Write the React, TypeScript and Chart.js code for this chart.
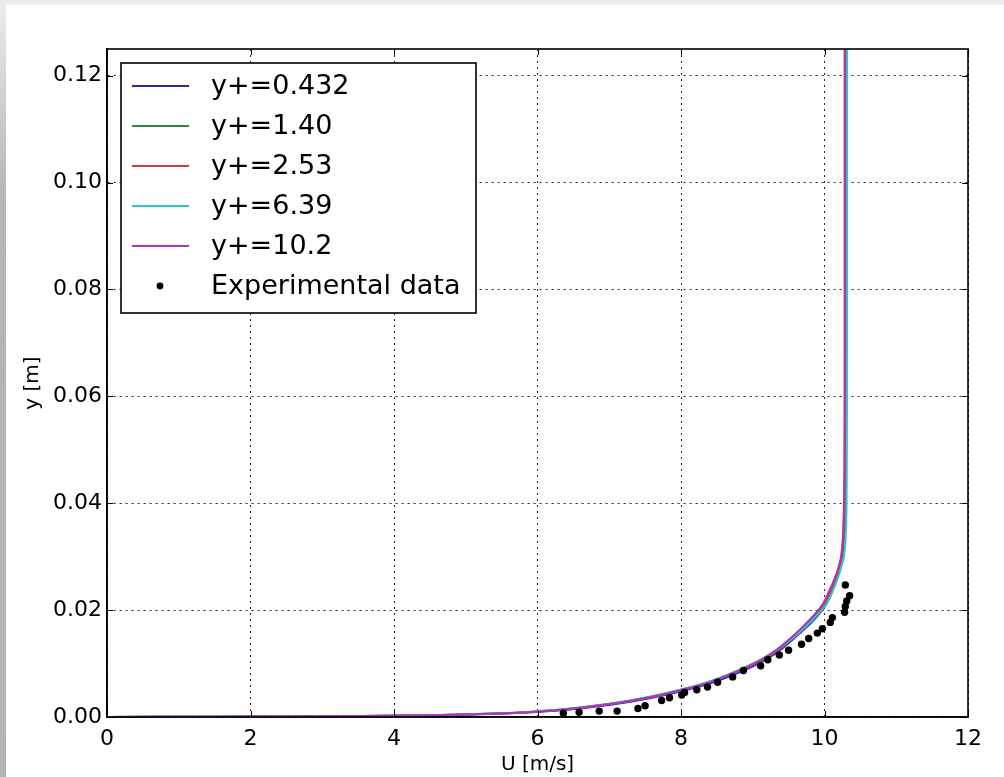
import React, { useEffect, useRef } from "react";
import { Chart, registerables } from "chart.js";

Chart.register(...registerables);

// Wall-normal heights (m) at which each simulated velocity profile is sampled
const heights = [
  0, 0.00005, 0.0001, 0.0002, 0.0003, 0.0005, 0.0007, 0.001, 0.0014, 0.002,
  0.003, 0.0045, 0.0065, 0.0095, 0.012, 0.015, 0.018, 0.021, 0.024, 0.027,
  0.03, 0.035, 0.045, 0.07, 0.125,
];

// Streamwise velocity U (m/s) for each first-cell y+ value
const uYplus0432 = [
  0, 1.6, 2.6, 3.7, 4.4, 5.2, 5.65, 6.05, 6.45, 6.85, 7.35, 7.9, 8.45, 9.0,
  9.33, 9.6, 9.84, 10.02, 10.11, 10.19, 10.24, 10.27, 10.285, 10.29, 10.29,
];
const uYplus140 = [
  0, 1.5, 2.5, 3.55, 4.25, 5.05, 5.55, 5.95, 6.35, 6.75, 7.27, 7.82, 8.38,
  8.93, 9.27, 9.56, 9.8, 9.99, 10.1, 10.19, 10.25, 10.28, 10.295, 10.3, 10.3,
];
const uYplus253 = [
  0, 1.55, 2.55, 3.6, 4.3, 5.1, 5.58, 5.98, 6.38, 6.78, 7.3, 7.85, 8.4, 8.96,
  9.3, 9.58, 9.82, 10.0, 10.1, 10.18, 10.24, 10.27, 10.285, 10.29, 10.29,
];
const uYplus639 = [
  0, 1.45, 2.45, 3.5, 4.2, 5.0, 5.5, 5.9, 6.3, 6.72, 7.25, 7.8, 8.37, 8.93,
  9.28, 9.58, 9.82, 10.02, 10.13, 10.21, 10.27, 10.3, 10.31, 10.315, 10.315,
];
const uYplus102 = [
  0, 1.5, 2.5, 3.55, 4.3, 5.1, 5.55, 5.97, 6.37, 6.77, 7.28, 7.84, 8.4, 8.95,
  9.28, 9.55, 9.78, 9.97, 10.08, 10.17, 10.23, 10.26, 10.275, 10.28, 10.28,
];

const seriesLabels = ["y+=0.432", "y+=1.40", "y+=2.53", "y+=6.39", "y+=10.2"];
const seriesValues = [uYplus0432, uYplus140, uYplus253, uYplus639, uYplus102];
const seriesColors = ["#2a2aa8", "#2e8a3c", "#d03a3a", "#2cc8c8", "#b232c0"];

// Measured profile
const expLabel = "Experimental data";
const expU = [
  6.36, 6.58, 6.86, 7.11, 7.4, 7.5, 7.73, 7.84, 8.01, 8.05, 8.22, 8.37, 8.51,
  8.72, 8.87, 9.11, 9.21, 9.37, 9.5, 9.68, 9.78, 9.9, 9.97, 10.08, 10.11,
  10.28, 10.29, 10.31, 10.35, 10.29,
];
const expY = [
  0.0007, 0.0009, 0.0011, 0.0011, 0.0016, 0.0021, 0.0031, 0.0036, 0.0041,
  0.0046, 0.0051, 0.0056, 0.0065, 0.0075, 0.0087, 0.0096, 0.0107, 0.0116,
  0.0125, 0.0136, 0.0147, 0.0157, 0.0165, 0.0177, 0.0186, 0.0196, 0.0207,
  0.0217, 0.0227, 0.0247,
];

const xTicks = [0, 2, 4, 6, 8, 10, 12];
const yTicks = [0, 0.02, 0.04, 0.06, 0.08, 0.1, 0.12];

const FONT = "'DejaVu Sans', 'Liberation Sans', sans-serif";

// Solid frame around the plot area plus short inward-pointing tick marks
const framePlugin = {
  id: "frame",
  afterDatasetsDraw(chart: any) {
    const { ctx, chartArea: a, scales } = chart;
    ctx.save();
    ctx.strokeStyle = "#000";
    ctx.lineWidth = 1;
    const len = 6;
    ctx.beginPath();
    for (const v of xTicks) {
      const px = Math.round(scales.x.getPixelForValue(v)) + 0.5;
      ctx.moveTo(px, a.bottom);
      ctx.lineTo(px, a.bottom - len);
      ctx.moveTo(px, a.top);
      ctx.lineTo(px, a.top + len);
    }
    for (const v of yTicks) {
      const py = Math.round(scales.y.getPixelForValue(v)) + 0.5;
      ctx.moveTo(a.left, py);
      ctx.lineTo(a.left + len, py);
      ctx.moveTo(a.right, py);
      ctx.lineTo(a.right - len, py);
    }
    ctx.stroke();
    ctx.lineWidth = 1.6;
    ctx.strokeRect(a.left, a.top, a.right - a.left, a.bottom - a.top);
    ctx.restore();
  },
};

// Boxed legend in the upper-left corner of the plot area
const legendBoxPlugin = {
  id: "legendBox",
  afterDraw(chart: any) {
    const { ctx, chartArea: a } = chart;
    const bx = a.left + 14;
    const by = a.top + 14;
    const bw = 355;
    const bh = 250;
    ctx.save();
    ctx.fillStyle = "#fff";
    ctx.fillRect(bx, by, bw, bh);
    ctx.strokeStyle = "#000";
    ctx.lineWidth = 1.6;
    ctx.strokeRect(bx, by, bw, bh);
    ctx.font = `27px ${FONT}`;
    ctx.textBaseline = "middle";
    ctx.textAlign = "left";
    chart.data.datasets.forEach((ds: any, i: number) => {
      const cy = by + 23 + i * 40;
      if (ds.showLine) {
        ctx.strokeStyle = ds.borderColor;
        ctx.lineWidth = 1.8;
        ctx.beginPath();
        ctx.moveTo(bx + 11, cy);
        ctx.lineTo(bx + 68, cy);
        ctx.stroke();
      } else {
        ctx.fillStyle = "#000";
        ctx.beginPath();
        ctx.arc(bx + 39, cy, 3.4, 0, Math.PI * 2);
        ctx.fill();
      }
      ctx.fillStyle = "#000";
      ctx.fillText(ds.label, bx + 90, cy + 1);
    });
    ctx.restore();
  },
};

export default function App() {
  const canvasRef = useRef<HTMLCanvasElement>(null);

  useEffect(() => {
    document.body.style.margin = "0";
    const canvas = canvasRef.current;
    if (!canvas) return;

    const lineSets = seriesLabels.map((label, s) => ({
      label,
      data: heights.map((h, i) => ({ x: seriesValues[s][i], y: h })),
      showLine: true,
      borderColor: seriesColors[s],
      backgroundColor: seriesColors[s],
      borderWidth: 2,
      pointRadius: 0,
      tension: 0.25,
      order: 10 - s,
    }));

    const chart = new Chart(canvas, {
      type: "scatter",
      data: {
        datasets: [
          ...lineSets,
          {
            label: expLabel,
            data: expU.map((u, i) => ({ x: u, y: expY[i] })),
            showLine: false,
            pointRadius: 3.7,
            pointBorderWidth: 0,
            backgroundColor: "#000",
            borderColor: "#000",
            order: 0,
          },
        ],
      },
      options: {
        responsive: false,
        animation: false,
        layout: { padding: { top: 44, right: 36, left: 0, bottom: 0 } },
        plugins: {
          legend: { display: false },
          tooltip: { enabled: false },
        },
        scales: {
          x: {
            type: "linear",
            position: "bottom",
            min: 0,
            max: 12,
            afterBuildTicks: (s: any) => {
              s.ticks = xTicks.map((v) => ({ value: v }));
            },
            afterFit: (s: any) => {
              s.height = 60;
            },
            ticks: {
              color: "#000",
              font: { family: FONT, size: 22 },
              padding: 9,
              maxRotation: 0,
              autoSkip: false,
              callback: (v: any) => String(v),
            },
            grid: { color: "rgba(0,0,0,0.85)", lineWidth: 1, drawTicks: false },
            border: { display: true, color: "#000", width: 1.6, dash: [2, 4] },
            title: {
              display: true,
              text: "U [m/s]",
              color: "#000",
              font: { family: FONT, size: 20 },
              padding: { top: 3, bottom: 0 },
            },
          },
          y: {
            type: "linear",
            position: "left",
            min: 0,
            max: 0.125,
            afterBuildTicks: (s: any) => {
              s.ticks = yTicks.map((v) => ({ value: v }));
            },
            afterFit: (s: any) => {
              s.width = 101;
            },
            ticks: {
              color: "#000",
              font: { family: FONT, size: 22 },
              padding: 5,
              autoSkip: false,
              callback: (v: any) => Number(v).toFixed(2),
            },
            grid: { color: "rgba(0,0,0,0.85)", lineWidth: 1, drawTicks: false },
            border: { display: true, color: "#000", width: 1.6, dash: [2, 4] },
            title: {
              display: true,
              text: "y [m]",
              color: "#000",
              font: { family: FONT, size: 20 },
              padding: { top: 15, bottom: 0 },
            },
          },
        },
      },
      plugins: [framePlugin, legendBoxPlugin],
    });

    return () => chart.destroy();
  }, []);

  return (
    <div
      style={{
        position: "relative",
        width: 1004,
        height: 777,
        background: "#fff",
        overflow: "hidden",
      }}
    >
      <div
        style={{
          position: "absolute",
          left: 0,
          top: 0,
          width: 1004,
          height: 5,
          background: "#eeeeee",
        }}
      />
      <div
        style={{
          position: "absolute",
          left: 0,
          top: 0,
          width: 6,
          height: 777,
          background: "linear-gradient(#ececec 0%, #b6b6b6 25%, #b4b4b4 100%)",
        }}
      />
      <canvas
        ref={canvasRef}
        width={998}
        height={772}
        style={{ position: "absolute", left: 6, top: 5, width: 998, height: 772 }}
      />
    </div>
  );
}
